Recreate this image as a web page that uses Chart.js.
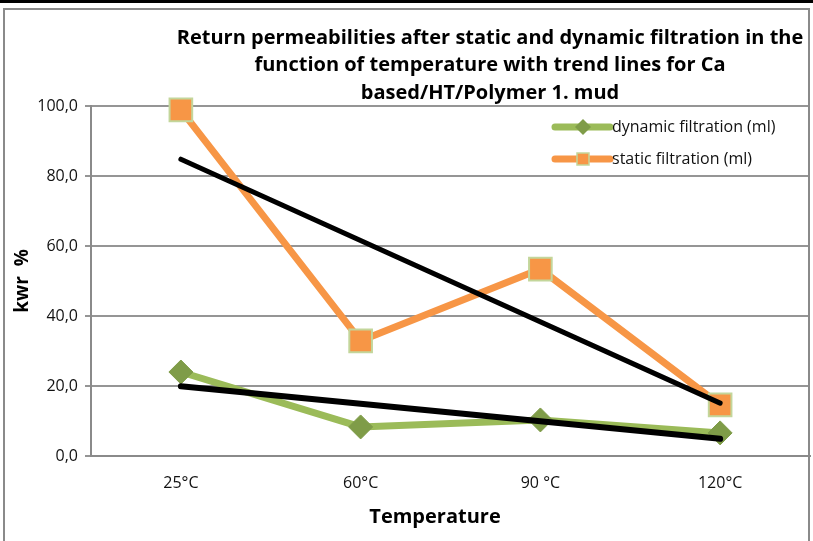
<!DOCTYPE html>
<html>
<head>
<meta charset="utf-8">
<script src="https://cdn.jsdelivr.net/npm/chart.js@4"></script>
<style>
    body { margin: 0; background: #fff; }
    #wrap { width: 813px; height: 541px; position: relative; }
</style>
</head>
<body>
<div id="wrap"><canvas id="chart" width="813" height="541"></canvas></div>
<script>
const temps = ['25°C', '60°C', '90 °C', '120°C'];
const dynamicVals = [24.0, 8.3, 10.3, 6.6];
const staticVals = [98.9, 32.9, 53.4, 14.6];
// trend line end points
const dynamicTrend = [19.9, null, null, 4.9];
const staticTrend = [84.8, null, null, 15.1];

const titleLines = [
    'Return permeabilities after static and dynamic filtration in the',
    'function of temperature with trend lines for Ca',
    'based/HT/Polymer 1. mud'
];

const GREEN = '#9BBB59';
const GREEN_DARK = '#7F9C48';
const ORANGE = '#F79646';
const SQUARE_EDGE = '#C3D69B';
const FONT = '"Open Sans", sans-serif';

const framePlugin = {
    id: 'frame',
    afterDraw(chart) {
        const ctx = chart.ctx;
        ctx.save();
        ctx.fillStyle = '#000';
        ctx.fillRect(0, 0, 813, 3);
        ctx.strokeStyle = '#8a8a8a';
        ctx.lineWidth = 2;
        ctx.beginPath();
        ctx.moveTo(4, 541);
        ctx.lineTo(4, 9);
        ctx.lineTo(809, 9);
        ctx.lineTo(809, 541);
        ctx.stroke();

        // title
        ctx.fillStyle = '#000';
        ctx.font = 'bold 20px ' + FONT;
        ctx.textAlign = 'center';
        ctx.textBaseline = 'middle';
        titleLines.forEach((t, i) => {
            ctx.fillText(t, 490, 38 + i * 27.5);
        });

        // x axis title
        ctx.fillText('Temperature', 435, 517);

        // legend
        const items = [
            { ds: chart.data.datasets[0], y: 127 },
            { ds: chart.data.datasets[1], y: 159 }
        ];
        ctx.font = '16px ' + FONT;
        ctx.textAlign = 'left';
        items.forEach(it => {
            ctx.strokeStyle = it.ds.borderColor;
            ctx.lineWidth = 7;
            ctx.lineCap = 'round';
            ctx.beginPath();
            ctx.moveTo(555, it.y);
            ctx.lineTo(610, it.y);
            ctx.stroke();
            ctx.fillStyle = it.ds.pointBackgroundColor;
            ctx.strokeStyle = it.ds.pointBorderColor;
            ctx.lineWidth = 1.5;
            if (it.ds.pointStyle === 'rectRot') {
                ctx.beginPath();
                ctx.moveTo(583, it.y - 8);
                ctx.lineTo(591, it.y);
                ctx.lineTo(583, it.y + 8);
                ctx.lineTo(575, it.y);
                ctx.closePath();
                ctx.fill();
            } else {
                ctx.fillRect(577, it.y - 6, 12, 12);
                ctx.strokeRect(577, it.y - 6, 12, 12);
            }
            ctx.fillStyle = '#111';
            ctx.fillText(it.ds.label, 612, it.y);
        });
        ctx.restore();
    }
};

new Chart(document.getElementById('chart'), {
    type: 'line',
    data: {
        labels: temps,
        datasets: [
            {
                label: 'dynamic filtration (ml)',
                data: dynamicVals,
                borderColor: GREEN,
                borderWidth: 7,
                pointStyle: 'rectRot',
                pointRadius: 12,
                pointBackgroundColor: GREEN_DARK,
                pointBorderColor: GREEN_DARK,
                pointBorderWidth: 1,
                tension: 0,
                clip: false,
                order: 3
            },
            {
                label: 'static filtration (ml)',
                data: staticVals,
                borderColor: ORANGE,
                borderWidth: 7,
                pointStyle: 'rect',
                pointRadius: 16,
                pointBackgroundColor: ORANGE,
                pointBorderColor: SQUARE_EDGE,
                pointBorderWidth: 2,
                tension: 0,
                clip: false,
                order: 2
            },
            {
                label: 'trend dynamic',
                data: dynamicTrend,
                borderColor: '#000',
                borderWidth: 6,
                borderCapStyle: 'round',
                pointRadius: 0,
                spanGaps: true,
                order: 1
            },
            {
                label: 'trend static',
                data: staticTrend,
                borderColor: '#000',
                borderWidth: 5,
                borderCapStyle: 'round',
                pointRadius: 0,
                spanGaps: true,
                order: 0
            }
        ]
    },
    options: {
        responsive: false,
        animation: false,
        layout: { autoPadding: false, padding: { left: 0, top: 106, right: 3, bottom: 0 } },
        plugins: {
            legend: { display: false },
            title: { display: false },
            tooltip: { enabled: false }
        },
        scales: {
            x: {
                offset: true,
                grid: { display: false },
                border: { display: true, color: '#8a8a8a', width: 2 },
                ticks: { color: '#111', font: { family: FONT, size: 16 }, padding: 10 },
                afterFit(scale) {
                    scale.height = 85;
                }
            },
            y: {
                min: 0,
                max: 100,
                ticks: {
                    stepSize: 20,
                    color: '#111',
                    font: { family: FONT, size: 16 },
                    padding: 7,
                    callback: v => v.toFixed(1).replace('.', ',')
                },
                grid: { color: '#959595', lineWidth: 2, tickLength: 6 },
                border: { display: true, color: '#8a8a8a', width: 2 },
                title: {
                    display: true,
                    text: 'kwr  %',
                    color: '#000',
                    font: { family: FONT, size: 19, weight: 'bold' },
                    padding: { top: 11, bottom: 0 }
                },
                afterFit(scale) {
                    scale.width = 91;
                }
            }
        }
    },
    plugins: [framePlugin]
});
</script>
</body>
</html>
